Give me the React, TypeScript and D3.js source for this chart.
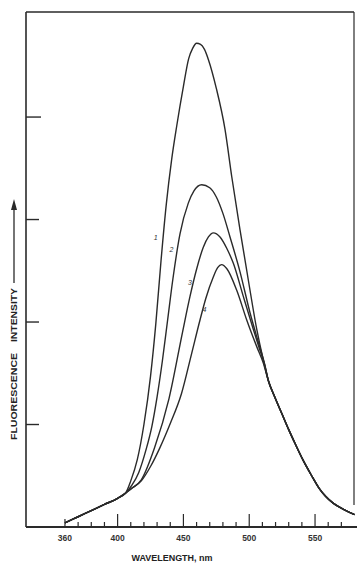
import React from "react";
import * as d3 from "d3";

// Shared rising foot (nm, relative intensity)
const baseWl = [360, 370, 380, 390, 400, 406];
const baseVal = [0.04, 0.1, 0.16, 0.22, 0.28, 0.33];

// Individual spectra (between the foot and the shared tail)
const c1Wl = [410, 415, 420, 425, 429, 433, 437, 441, 445, 450, 454, 457, 460, 463, 466, 469, 475, 481.6, 486.7, 493, 499.3, 505.7, 510.5];
const c1Val = [0.45, 0.66, 1.0, 1.47, 1.98, 2.6, 3.15, 3.58, 3.92, 4.3, 4.57, 4.67, 4.72, 4.71, 4.66, 4.56, 4.28, 3.88, 3.42, 2.9, 2.41, 1.93, 1.64];

const c2Wl = [411, 416, 421.5, 426, 430, 434, 438, 442, 447.4, 453.7, 458, 463.9, 470, 475, 480, 485.4, 493, 500.6, 507, 511.5];
const c2Val = [0.41, 0.53, 0.75, 0.98, 1.27, 1.62, 2.02, 2.42, 2.86, 3.16, 3.28, 3.34, 3.31, 3.22, 3.06, 2.83, 2.49, 2.09, 1.8, 1.6];

const c3Wl = [411, 418, 428, 439, 449.3, 455, 460.1, 465.1, 469, 472.7, 477.8, 482.9, 488, 495.5, 503.1, 508, 511.8];
const c3Val = [0.38, 0.46, 0.77, 1.25, 1.9, 2.25, 2.52, 2.73, 2.83, 2.87, 2.83, 2.72, 2.57, 2.25, 1.93, 1.73, 1.58];

const c4Wl = [410, 418, 425, 432, 440, 448.5, 456, 462.6, 467, 472.7, 476, 479, 483, 490.5, 498.1, 505.7, 510.7];
const c4Val = [0.37, 0.45, 0.59, 0.77, 1.01, 1.3, 1.68, 2.02, 2.23, 2.44, 2.53, 2.56, 2.52, 2.31, 2.02, 1.76, 1.6];

// Shared falling tail
const tailWl = [514.5, 519, 525, 530, 535, 541, 547, 553, 558, 564, 572, 580];
const tailVal = [1.43, 1.28, 1.1, 0.95, 0.81, 0.65, 0.51, 0.38, 0.3, 0.23, 0.17, 0.12];

const curveNames = ["1", "2", "3", "4"];
const curveWls = [c1Wl, c2Wl, c3Wl, c4Wl];
const curveVals = [c1Val, c2Val, c3Val, c4Val];
// label anchor (nm, intensity)
const labelWl = [429, 441, 455, 466];
const labelVal = [2.8, 2.68, 2.36, 2.1];

const xTickValues = d3.range(360, 571, 10);
const xLabelValues = [360, 400, 450, 500, 550];
const yTickValues = [1, 2, 3, 4];

const W = 357;
const H = 565;
const L = 26, R = 354, T = 12, B = 527;

export default function App() {
  const x = d3.scaleLinear().domain([330.4, 579.6]).range([L, R]);
  const y = d3.scaleLinear().domain([0, 5.025]).range([B, T]);
  const line = d3
    .line<[number, number]>()
    .x((d) => x(d[0]))
    .y((d) => y(d[1]))
    .curve(d3.curveMonotoneX);

  const paths = curveWls.map((wls, i) => {
    const pts: [number, number][] = [];
    baseWl.forEach((w, j) => pts.push([w, baseVal[j]]));
    wls.forEach((w, j) => pts.push([w, curveVals[i][j]]));
    tailWl.forEach((w, j) => pts.push([w, tailVal[j]]));
    return line(pts) || "";
  });

  const stroke = "#2a2a2a";
  const font = "'Liberation Sans', Arial, sans-serif";

  return (
    <svg
      width={W}
      height={H}
      style={{ position: "absolute", left: 0, top: 0, background: "#fff" }}
    >
      <rect x={0} y={0} width={W} height={H} fill="#fff" />
      {/* frame */}
      <line x1={L} y1={T} x2={L} y2={B} stroke={stroke} strokeWidth={1.6} />
      <line x1={L} y1={B} x2={W} y2={B} stroke={stroke} strokeWidth={1.8} />
      <line x1={L} y1={T} x2={R} y2={T} stroke={stroke} strokeWidth={1.4} />
      <line x1={R} y1={T} x2={R} y2={505} stroke={stroke} strokeWidth={1.2} />

      {/* x ticks */}
      {xTickValues.map((v) => {
        const len = v % 50 === 0 ? 13 : v === 360 ? 8 : 5;
        return (
          <line key={v} x1={x(v)} x2={x(v)} y1={B} y2={B - len} stroke={stroke} strokeWidth={1.2} />
        );
      })}
      {xLabelValues.map((v) => (
        <text
          key={v}
          x={x(v)}
          y={541}
          fontSize={8.5}
          fontWeight="bold"
          fontFamily={font}
          textAnchor="middle"
          fill="#333"
        >
          {v}
        </text>
      ))}
      <text
        x={172}
        y={561}
        fontSize={9}
        fontWeight="bold"
        fontFamily={font}
        textAnchor="middle"
        fill="#222"
        textLength={81}
        lengthAdjust="spacingAndGlyphs"
      >
        WAVELENGTH, nm
      </text>

      {/* y ticks */}
      {yTickValues.map((v) => (
        <line
          key={v}
          x1={L}
          x2={L + (v === 4 ? 15 : 13)}
          y1={y(v)}
          y2={y(v)}
          stroke={stroke}
          strokeWidth={1.4}
        />
      ))}

      {/* y label */}
      <text
        transform="translate(17,440) rotate(-90)"
        fontSize={9}
        fontWeight="bold"
        fontFamily={font}
        fill="#222"
        textLength={87}
        lengthAdjust="spacingAndGlyphs"
      >
        FLUORESCENCE
      </text>
      <text
        transform="translate(17,342) rotate(-90)"
        fontSize={9}
        fontWeight="bold"
        fontFamily={font}
        fill="#222"
        textLength={54}
        lengthAdjust="spacingAndGlyphs"
      >
        INTENSITY
      </text>
      <line x1={14} y1={283} x2={14} y2={208} stroke={stroke} strokeWidth={1.3} />
      <path d="M14,199 L11,210 L17,210 Z" fill={stroke} />

      {/* curves */}
      {paths.map((d, i) => (
        <path key={i} d={d} fill="none" stroke={stroke} strokeWidth={1.4} strokeLinejoin="round" />
      ))}

      {/* curve labels */}
      {curveNames.map((n, i) => (
        <text
          key={n}
          x={x(labelWl[i])}
          y={y(labelVal[i])}
          fontSize={7}
          fontStyle="italic"
          fontFamily={font}
          fill="#333"
          textAnchor="middle"
        >
          {n}
        </text>
      ))}
    </svg>
  );
}
